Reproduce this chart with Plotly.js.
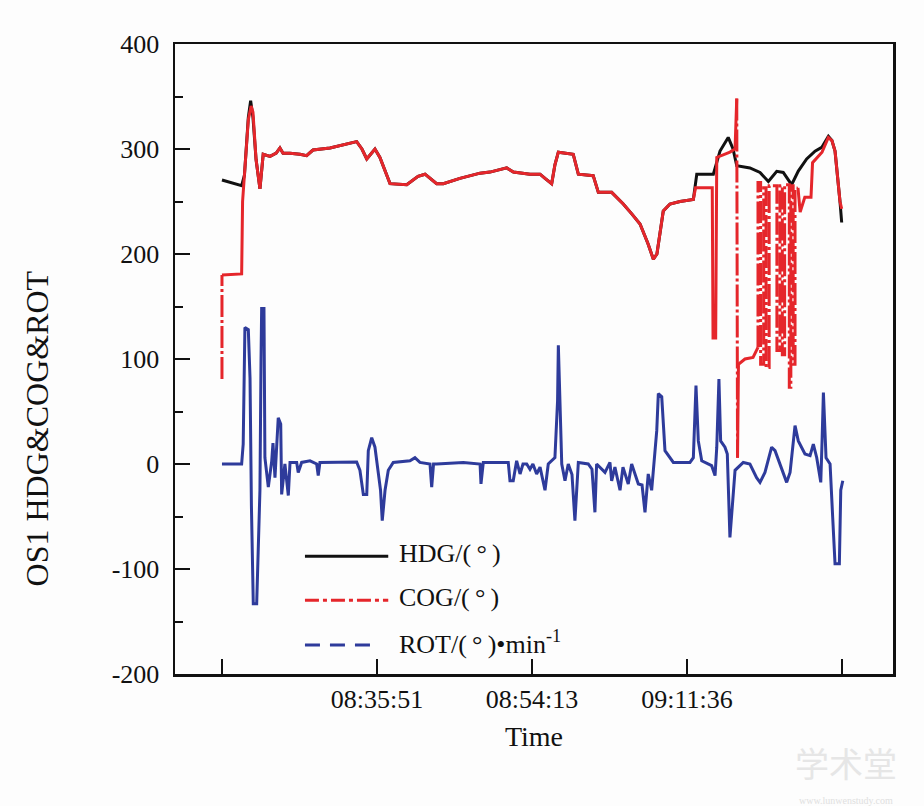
<!DOCTYPE html>
<html><head><meta charset="utf-8">
<script src="https://cdn.plot.ly/plotly-3.0.1.min.js"></script>
<style>body{margin:0;background:#fff}#chart{width:924px;height:806px}</style>
</head><body><div id="chart"></div>
<script>
// ---- tick labels ----
const xTickVals = [100, 200, 300];
const xTickText = ["08:35:51", "08:54:13", "09:11:36"];
const xEndTicks = [0, 400];
const yTickVals = [-200, -100, 0, 100, 200, 300, 400];
const yTickText = ["-200", "-100", "0", "100", "200", "300", "400"];

// ---- HDG (deg) ----
const hdgX = [0,12.7,14.5,15.5,17,18.5,20,22,24.5,26.6,31,35,37.4,39.4,43.9,50.3,54.6,58.7,69.7,86.9,90.3,93.4,96.8,98.7,101.9,103.9,108.4,119.2,126.5,131,138.5,142.8,153.5,166.5,172.9,183.7,188,198.7,205.2,208.4,212.7,214.8,217,226.6,229.9,239.5,242.8,251.4,258.9,264.5,269.7,274.8,278.3,280.6,282.6,284.7,289,295.5,304.1,306.3,317,321.3,326.6,329.7,332.1,340.6,347.1,352.5,357.9,362.1,367.5,371.8,377.2,382.6,386.9,391.2,393.5,395.5,398.7,399.8];
const hdgY = [270.5,265,275,300,330,346,330,290,262,295,293,296,301,296,296,295,293.6,299,301,307,300,290.5,297,300,292,284,267,266,274,276,267,267,272,277,278,282,278,276,276,272,267,285,297,295,276,274.6,258.7,258.7,247.6,238,228.6,210,195,200,222,241,247.6,250,252,276,276,298,311,300,284,282,277.7,269,278.7,277.7,266,279,290.5,298,301.5,312,308,298,250,230];

// ---- COG (deg): continuous part ----
const cogX = [0,12.7,13.3,15.5,17,18.8,20,22,24.5,26.6,31,35,37.4,39.4,43.9,50.3,54.6,58.7,69.7,86.9,90.3,93.4,96.8,98.7,101.9,103.9,108.4,119.2,126.5,131,138.5,142.8,153.5,166.5,172.9,183.7,188,198.7,205.2,208.4,212.7,214.8,217,226.6,229.9,239.5,242.8,251.4,258.9,264.5,269.7,274.8,278.3,280.6,282.6,284.7,289,295.5,304.1,305.5,316.3,316.8,318.5,319.2,327.7,331,332.1,null,332.6,333.2,337.4,342.6,345.8,null,371.6,373,376,380,381,387.1,391.2,393.5,395.5,398.7,399.8];
const cogY = [180,181,250,300,328,341,335,290,262,295,293,296,301,296,296,295,293.6,299,301,307,300,290.5,297,300,292,284,267,266,274,276,267,267,272,277,278,282,278,276,276,272,267,285,297,295,276,274.6,258.7,258.7,247.6,238,228.6,210,195,200,222,241,247.6,250,252,263,263,120,120,292,297,300,348,null,6,95,100,101.5,111,null,263,240,254,254,287,297,311,308,298,250,243];
// ---- COG (deg): jumps drawn dash-dot ----
const cogJumpX = [0,0,null,332.1,332.6,null,345.8,345.8,347.5,347.5,349.5,349.5,351,351,353,353,358,358,360,360,361.5,361.5,363,363,366,366,367,367,368.5,368.5,369.7,369.7,371.6];
const cogJumpY = [81,180,null,348,6,null,111,268,268,95,95,263,263,92,92,265,265,108,108,265,265,104,104,266,266,73,73,265,265,95,95,262,263];

// ---- ROT (deg/min) ----
const rotX = [0,12.7,13.7,14.8,17,18.1,19,20.2,22.4,23.5,24.5,25.2,25.6,27.1,27.7,29.9,32.1,32.9,34.2,36.3,37.9,38.5,40.6,42.8,43.9,48.2,49.2,51.4,56.8,61.1,62.1,63.2,69.7,86.9,89,91.2,93.4,94.4,96.6,98.7,100.8,102.3,103.4,105.2,107.3,110.5,121.3,124.5,127.7,134.2,135.3,136.5,138.5,155.7,166.5,167.1,168.6,184.7,185.8,187.9,190.1,192.3,194.2,196.6,198.7,200.6,203,205.2,208.4,210.5,214.8,216.5,217,218.1,219.2,221.3,223.4,225.8,227.7,229.9,236.3,238.7,240.6,241.7,247.1,250.3,251.4,253.5,256.8,258.7,260,262.1,264.3,266.5,268.6,271,272.9,275,277.2,278.3,280.5,281.5,283.7,285.8,289,291.2,301.9,304.1,305.8,307.3,309.5,315.9,318.1,319.2,320.6,321.7,324.5,326,327.7,329.5,331,336.3,340.6,344.9,347.1,350.3,354.6,356.8,360,364.3,366.5,369.7,371.8,376.1,379.4,381.5,383.7,386.3,387.1,388,389.7,392.3,394,395.5,398.3,399.2,400.5];
const rotY = [0,0,19,130,128,82,-40,-133,-133,-70,-25,100,148,148,6,-22,3,20,-13,44,38,-29,0,-30,1.5,1.5,-8,1.5,3,0,-11,1.5,1.5,2,-6,-29,-29,12.7,25,16,-8,-25,-54,-25,-6,1.5,3,6,1.5,0,-22,0,0,1.5,0,-19,1.5,1.5,-16,-16,3,-9.5,0,0,-5,0,-9.5,-3,-25,0,6,60,113,57,0,-16,0,-10,-54,1.5,0,-5,-46,0,-8,1.5,-16,-3,-25,-3,-10,-19,0,-10,-19,-20,-46,-9.5,-25,-6,32,67,64,12.7,6,1.5,1.5,6,74.6,22,3,-1.6,-11,16,81,22,16,9.5,-70,-32,-6,1.5,0,-13,-17.5,-8,16,12.7,0,-17.5,-8,36.5,22,9.5,8,19,6,-17.5,20,68,6,0,-51,-95,-95,-25,-16];

// ---- legend labels / titles ----
const legendNames = ["HDG/(\u2009°\u2009)", "COG/(\u2009°\u2009)", "ROT/(\u2009°\u2009)\u2022min<sup>-1</sup>"];
const xTitle = "Time";
const yTitle = "OS1 HDG&amp;COG&amp;ROT";

const BLACK = "#111111", RED = "#e5262b", BLUE = "#2e3b9b";
const FONT = "Liberation Serif, Times New Roman, serif";
const DASHDOT = "22px,3px,3px,3px";

const traces = [
  {x: hdgX, y: hdgY, mode: "lines", name: legendNames[0], line: {color: BLACK, width: 3}, showlegend: false},
  {x: cogX, y: cogY, mode: "lines", name: legendNames[1], line: {color: RED, width: 3}, showlegend: false, connectgaps: false},
  {x: cogJumpX, y: cogJumpY, mode: "lines", name: legendNames[1], line: {color: RED, width: 3, dash: DASHDOT}, showlegend: false, connectgaps: false},
  {x: rotX, y: rotY, mode: "lines", name: legendNames[2], line: {color: BLUE, width: 3}, showlegend: false}
];

// manual legend (line samples + labels) in paper coordinates
const legRows = [
  {y: 0.187, x1: 0.297, color: BLACK, dash: "solid"},
  {y: 0.117, x1: 0.297, color: RED, dash: "14px,4px,4px,4px"},
  {y: 0.046, x1: 0.279, color: BLUE, dash: "15px,10px"}
];
const shapes = legRows.map(r => ({type: "line", xref: "paper", yref: "paper", x0: 0.181, x1: r.x1, y0: r.y, y1: r.y, line: {color: r.color, width: 3, dash: r.dash}}));
const annotations = legRows.map((r, i) => ({xref: "paper", yref: "paper", x: 0.309, y: r.y + 0.004, xanchor: "left", yanchor: "middle", text: legendNames[i], showarrow: false, font: {family: FONT, size: 26, color: "#111"}}));
annotations.push({xref: "paper", yref: "paper", x: -0.192, y: 0.39, textangle: -90, xanchor: "center", yanchor: "middle", text: yTitle, showarrow: false, font: {family: FONT, size: 32, color: "#111"}});
annotations.push({xref: "paper", yref: "paper", x: 0.935, y: -0.14, xanchor: "center", yanchor: "middle", text: "学术堂", showarrow: false, font: {family: "Noto Sans CJK SC", size: 34, color: "#e6e6e6"}});
annotations.push({xref: "paper", yref: "paper", x: 0.935, y: -0.2, xanchor: "center", yanchor: "middle", text: "www.lunwenstudy.com", showarrow: false, font: {family: FONT, size: 10, color: "#e0e0e0"}});

const layout = {
  width: 924, height: 806,
  margin: {l: 175, r: 31, t: 44, b: 132},
  paper_bgcolor: "#fdfdfd", plot_bgcolor: "#fdfdfd",
  font: {family: FONT, color: "#111", size: 26},
  showlegend: false,
  xaxis: {
    range: [-30.3, 432.9], tickvals: xTickVals, ticktext: xTickText,
    ticks: "inside", ticklen: 15, tickwidth: 2.5, tickcolor: "#111",
    minor: {tickmode: "array", tickvals: xEndTicks, ticks: "inside", ticklen: 15, tickwidth: 2.5, tickcolor: "#111", showgrid: false},
    showline: true, linecolor: "#111", linewidth: 2.5, mirror: true,
    showgrid: false, zeroline: false, tickfont: {family: FONT, size: 26},
    title: {text: xTitle, font: {family: FONT, size: 28}, standoff: 14}
  },
  yaxis: {
    range: [-200, 400], tickvals: yTickVals, ticktext: yTickText,
    ticks: "inside", ticklen: 15, tickwidth: 2.5, tickcolor: "#111",
    minor: {ticks: "inside", ticklen: 8, tickwidth: 2, tickcolor: "#111", dtick: 50, showgrid: false},
    showline: true, linecolor: "#111", linewidth: 2.5, mirror: true,
    showgrid: false, zeroline: false, tickfont: {family: FONT, size: 26},
    ticklabelstandoff: 8
  },
  shapes: shapes,
  annotations: annotations
};

Plotly.newPlot("chart", traces, layout, {displayModeBar: false, staticPlot: true});
</script>
</body></html>
